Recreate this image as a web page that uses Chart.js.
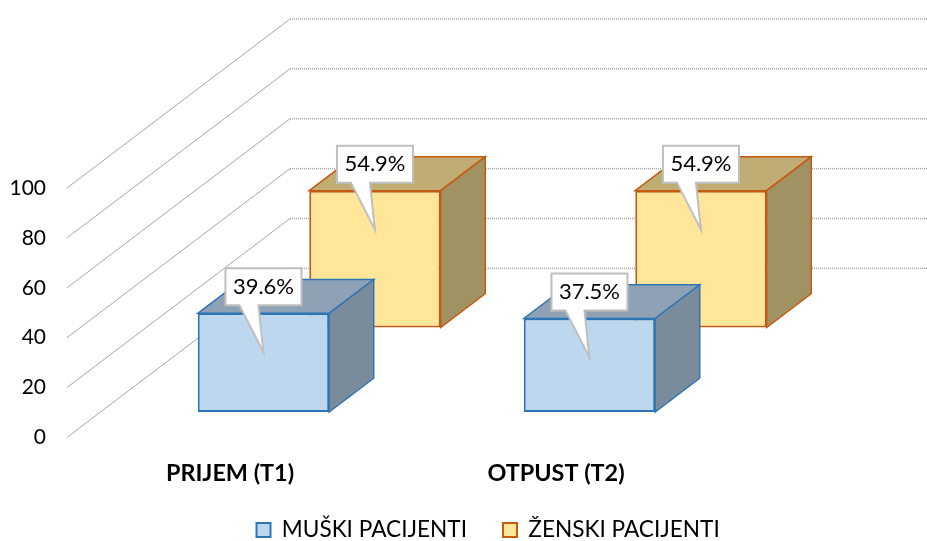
<!DOCTYPE html>
<html>
<head>
<meta charset="utf-8">
<title>Pacijenti</title>
<script src="https://cdn.jsdelivr.net/npm/chart.js@4"></script>
<style>
    html, body { margin: 0; padding: 0; background: #fff; }
    canvas { display: block; }
</style>
</head>
<body>
<canvas id="chart" width="927" height="541"></canvas>
<script>
// Data
const categories = ['PRIJEM (T1)', 'OTPUST (T2)'];
const seriesNames = ['MUŠKI PACIJENTI', 'ŽENSKI PACIJENTI'];
const maleValues = [39.6, 37.5];
const femaleValues = [54.9, 54.9];
const yTicks = [0, 20, 40, 60, 80, 100];

// 3D look
const FONT = 'Lato, "Noto Sans", sans-serif';
const FLOOR_DX = 223;
const FLOOR_DY = -169;
const BAR_DEPTH = 0.2;
const seriesDepth = [0.15, 0.65];
const topColors = ['#8FA2B5', '#BFAD73'];
const sideColors = ['#7A8B9B', '#A09263'];

function polygon(ctx, pts, fill, stroke, width) {
    ctx.beginPath();
    pts.forEach((p, i) => i ? ctx.lineTo(p[0], p[1]) : ctx.moveTo(p[0], p[1]));
    ctx.closePath();
    ctx.fillStyle = fill;
    ctx.fill();
    ctx.strokeStyle = stroke;
    ctx.lineWidth = width;
    ctx.lineJoin = 'miter';
    ctx.stroke();
}

// Walls behind the bars, built from the y scale
const wallPlugin = {
    id: 'wall',
    beforeDatasetsDraw(chart) {
        const ctx = chart.ctx;
        const y = chart.scales.y;
        const left = chart.chartArea.left;
        ctx.save();
        ctx.strokeStyle = '#A6A6A6';
        yTicks.forEach(tick => {
            const py = y.getPixelForValue(tick);
            ctx.lineWidth = 1;
            ctx.setLineDash([]);
            ctx.beginPath();
            ctx.moveTo(left, py);
            ctx.lineTo(left + FLOOR_DX, py + FLOOR_DY);
            ctx.stroke();
            ctx.lineWidth = 1.5;
            ctx.setLineDash([1, 1]);
            ctx.beginPath();
            ctx.moveTo(left + FLOOR_DX, py + FLOOR_DY);
            ctx.lineTo(chart.width, py + FLOOR_DY);
            ctx.stroke();
        });
        ctx.restore();
    }
};

// Pushes each series back into the depth and adds top and side faces
const depthPlugin = {
    id: 'depth',
    beforeDatasetDraw(chart, args) {
        const ctx = chart.ctx;
        const i = args.index;
        const ds = chart.data.datasets[i];
        const ddx = FLOOR_DX * BAR_DEPTH;
        const ddy = FLOOR_DY * BAR_DEPTH;
        ctx.save();
        ctx.translate(FLOOR_DX * seriesDepth[i], FLOOR_DY * seriesDepth[i]);
        args.meta.data.forEach(bar => {
            const l = bar.x - bar.width / 2;
            const r = bar.x + bar.width / 2;
            const t = bar.y;
            const b = bar.base;
            polygon(ctx, [[l, t], [l + ddx, t + ddy], [r + ddx, t + ddy], [r, t]], topColors[i], ds.borderColor, 1.5);
            polygon(ctx, [[r, t], [r + ddx, t + ddy], [r + ddx, b + ddy], [r, b]], sideColors[i], ds.borderColor, 1.5);
        });
    },
    afterDatasetDraw(chart) {
        chart.ctx.restore();
    }
};

// Speech bubble labels
const calloutPlugin = {
    id: 'callout',
    afterDatasetsDraw(chart) {
        const ctx = chart.ctx;
        chart.data.datasets.forEach((ds, i) => {
            const ox = FLOOR_DX * seriesDepth[i];
            const oy = FLOOR_DY * seriesDepth[i];
            chart.getDatasetMeta(i).data.forEach((bar, j) => {
                const cx = bar.x + ox;
                const top = bar.y + oy;
                const l = cx - 38;
                const r = cx + 38;
                const t = top - 45;
                const b = top - 8;
                ctx.save();
                polygon(ctx, [[l, t], [r, t], [r, b], [cx - 5, b], [cx, top + 39], [cx - 24, b], [l, b]], '#fff', '#BFBFBF', 2);
                ctx.fillStyle = '#000';
                ctx.font = '22px ' + FONT;
                ctx.textAlign = 'center';
                ctx.textBaseline = 'middle';
                ctx.fillText(ds.data[j] + '%', cx, (t + b) / 2);
                ctx.restore();
            });
        });
    }
};

// Places the legend where the reference has it
const legendPlacePlugin = {
    id: 'legendPlace',
    afterLayout(chart) {
        const legend = chart.legend;
        const pad = legend.options.labels.padding;
        legend.left = 256.5 - pad;
        legend.right = 927;
        legend.top = 530 - pad - legend.options.labels.font.size / 2;
    }
};

new Chart(document.getElementById('chart'), {
    type: 'bar',
    data: {
        labels: categories,
        datasets: [
            {
                label: seriesNames[0],
                data: maleValues,
                backgroundColor: '#BDD7EE',
                borderColor: '#2E75B6',
                borderWidth: 2,
                borderSkipped: false,
                clip: false
            },
            {
                label: seriesNames[1],
                data: femaleValues,
                backgroundColor: '#FFE699',
                borderColor: '#C55A11',
                borderWidth: 2,
                borderSkipped: false,
                clip: false
            }
        ]
    },
    options: {
        responsive: false,
        animation: false,
        layout: { padding: { top: 188, right: 208, bottom: -15 } },
        datasets: {
            bar: { grouped: false, categoryPercentage: 1, barPercentage: 0.403 }
        },
        plugins: {
            tooltip: { enabled: false },
            legend: {
                position: 'bottom',
                align: 'start',
                labels: {
                    boxWidth: 14,
                    boxHeight: 14,
                    padding: 36,
                    color: '#000',
                    font: { family: FONT, size: 22.6 },
                    generateLabels(chart) {
                        return Chart.defaults.plugins.legend.labels.generateLabels(chart)
                            .map(item => ({ ...item, lineWidth: 2 }));
                    }
                }
            }
        },
        scales: {
            x: {
                grid: { display: false, drawTicks: false },
                border: { display: false },
                ticks: {
                    padding: 22,
                    color: '#000',
                    font: { family: FONT, size: 23.4, weight: 'bold' }
                },
                afterFit(axis) { axis.height = 50; }
            },
            y: {
                min: 0,
                max: 100,
                grid: { display: false, drawTicks: false },
                border: { display: false },
                afterBuildTicks(axis) { axis.ticks = yTicks.map(v => ({ value: v })); },
                ticks: {
                    padding: 21,
                    color: '#000',
                    font: { family: FONT, size: 21 }
                },
                afterFit(axis) { axis.width = 67; }
            }
        }
    },
    plugins: [wallPlugin, depthPlugin, calloutPlugin, legendPlacePlugin]
});
</script>
</body>
</html>
